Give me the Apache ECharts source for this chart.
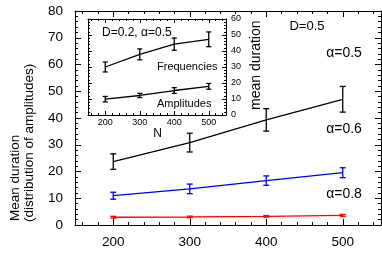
<!DOCTYPE html>
<html>
<head>
<meta charset="utf-8">
<script src="https://cdn.jsdelivr.net/npm/echarts@6/dist/echarts.min.js"></script>
<style>html,body{margin:0;padding:0;background:#fff;}#c{width:382px;height:254px;}</style>
</head>
<body>
<div id="c"></div>
<script>
// ---- data ----
const nValues = [200, 300, 400, 500];
const xTickLabels = [200, 300, 400, 500];
const alpha05 = [23.7, 30.8, 39.3, 47.0];
const alpha05Err = [2.9, 3.5, 4.2, 4.8];
const alpha06 = [10.95, 13.5, 16.6, 19.55];
const alpha06Err = [1.3, 1.8, 1.75, 1.85];
const alpha08 = [2.9, 3.0, 3.25, 3.6];
const alpha08Err = [0.35, 0.3, 0.3, 0.35];
const insetFreq = [30.0, 37.9, 44.3, 47.3];
const insetFreqErr = [3.1, 3.4, 3.8, 4.6];
const insetAmpl = [9.9, 12.2, 15.3, 17.9];
const insetAmplErr = [1.7, 1.3, 1.8, 1.8];
const xMinorTicks = [160,180,220,240,260,280,320,340,360,380,420,440,460,480,520,540];

const FONT = 'Liberation Sans, Arial, Helvetica, sans-serif';
const chart = echarts.init(document.getElementById('c'));

function pts(ys) { return nValues.map((x, i) => [x, ys[i]]); }
function errPts(ys, es) { return nValues.map((x, i) => [x, ys[i], es[i]]); }

function errSeries(ys, es, color, xi, yi, cap, z) {
  return {
    type: 'custom', xAxisIndex: xi, yAxisIndex: yi, z: z, silent: true,
    data: errPts(ys, es),
    renderItem: function (params, api) {
      const x = api.value(0), y = api.value(1), e = api.value(2);
      const t = api.coord([x, y + e]);
      const b = api.coord([x, y - e]);
      const st = { stroke: color, lineWidth: 1.3 };
      return {
        type: 'group',
        children: [
          { type: 'line', shape: { x1: t[0], y1: t[1], x2: b[0], y2: b[1] }, style: st },
          { type: 'line', shape: { x1: t[0] - cap, y1: t[1], x2: t[0] + cap, y2: t[1] }, style: st },
          { type: 'line', shape: { x1: b[0] - cap, y1: b[1], x2: b[0] + cap, y2: b[1] }, style: st }
        ]
      };
    }
  };
}
function lineSeries(ys, color, xi, yi, z) {
  return {
    type: 'line', xAxisIndex: xi, yAxisIndex: yi, z: z, silent: true,
    data: pts(ys), symbol: 'none',
    lineStyle: { color: color, width: 1.3 }, animation: false
  };
}

const axLine = { show: true, lineStyle: { color: '#000', width: 1 } };
function xAx(grid, pos, values, len, labels, fontSize, z, showLine) {
  return {
    type: 'value', gridIndex: grid, position: pos, min: 150, max: 550, offset: 0, z: z,
    axisLine: showLine ? axLine : { show: false },
    axisTick: { show: true, inside: true, length: len, customValues: values, lineStyle: { color: '#000' } },
    axisLabel: labels ? { show: true, customValues: xTickLabels, color: '#000', fontSize: fontSize, fontFamily: FONT, margin: labels } : { show: false },
    splitLine: { show: false }
  };
}

const option = {
  animation: false,
  backgroundColor: '#fff',
  grid: [
    { left: 75, right: 1, top: 11, bottom: 29, show: false },
    { left: 88, width: 138, top: 19, height: 96, show: true, backgroundColor: '#fff', borderWidth: 0, z: 10 }
  ],
  xAxis: [
    xAx(0, 'bottom', xTickLabels, 6, 10, 13.5, 0, true),
    xAx(0, 'bottom', xMinorTicks, 3, 0, 0, 0, false),
    xAx(0, 'top', xTickLabels, 6, 0, 0, 0, true),
    xAx(0, 'top', xMinorTicks, 3, 0, 0, 0, false),
    xAx(1, 'bottom', xTickLabels, 4, 3, 9, 11, true),
    xAx(1, 'bottom', xMinorTicks, 2, 0, 0, 11, false),
    xAx(1, 'top', xTickLabels, 4, 0, 0, 11, true),
    xAx(1, 'top', xMinorTicks, 2, 0, 0, 11, false)
  ],
  yAxis: [
    { type: 'value', gridIndex: 0, position: 'left', min: 0, max: 80, interval: 10,
      axisLine: axLine,
      axisTick: { show: true, inside: true, length: 6, lineStyle: { color: '#000' } },
      minorTick: { show: true, splitNumber: 5, length: 3, lineStyle: { color: '#000' } },
      axisLabel: { color: '#000', fontSize: 13.5, fontFamily: FONT, margin: 12 },
      splitLine: { show: false } },
    { type: 'value', gridIndex: 0, position: 'right', min: 0, max: 80, interval: 10,
      axisLine: axLine,
      axisTick: { show: true, inside: true, length: 6, lineStyle: { color: '#000' } },
      minorTick: { show: true, splitNumber: 5, length: 3, lineStyle: { color: '#000' } },
      axisLabel: { show: false }, splitLine: { show: false } },
    { type: 'value', gridIndex: 1, position: 'right', min: 0, max: 60, interval: 10, z: 11,
      axisLine: axLine,
      axisTick: { show: true, inside: true, length: 4, lineStyle: { color: '#000' } },
      minorTick: { show: true, splitNumber: 5, length: 2, lineStyle: { color: '#000' } },
      axisLabel: { color: '#000', fontSize: 9, fontFamily: FONT, margin: 5 },
      splitLine: { show: false } },
    { type: 'value', gridIndex: 1, position: 'left', min: 0, max: 60, interval: 10, z: 11,
      axisLine: axLine,
      axisTick: { show: true, inside: true, length: 4, lineStyle: { color: '#000' } },
      minorTick: { show: true, splitNumber: 5, length: 2, lineStyle: { color: '#000' } },
      axisLabel: { show: false }, splitLine: { show: false } }
  ],
  series: [
    lineSeries(alpha05, '#000', 0, 0, 2),
    errSeries(alpha05, alpha05Err, '#000', 0, 0, 3, 2),
    lineSeries(alpha06, '#0000dd', 0, 0, 2),
    errSeries(alpha06, alpha06Err, '#0000dd', 0, 0, 3, 2),
    lineSeries(alpha08, '#ff0000', 0, 0, 2),
    errSeries(alpha08, alpha08Err, '#ff0000', 0, 0, 3, 2),
    lineSeries(insetFreq, '#000', 4, 2, 12),
    errSeries(insetFreq, insetFreqErr, '#000', 4, 2, 2.5, 12),
    lineSeries(insetAmpl, '#000', 4, 2, 12),
    errSeries(insetAmpl, insetAmplErr, '#000', 4, 2, 2.5, 12)
  ],
  graphic: [
    { type: 'text', x: 307, y: 26, z: 20, style: { text: 'D=0.5', fontSize: 13, fontFamily: FONT, fill: '#000', textAlign: 'center', textVerticalAlign: 'middle' } },
    { type: 'text', x: 344, y: 53, z: 20, style: { text: 'α=0.5', fontSize: 14, fontFamily: FONT, fill: '#000', textAlign: 'center', textVerticalAlign: 'middle' } },
    { type: 'text', x: 344, y: 129, z: 20, style: { text: 'α=0.6', fontSize: 14, fontFamily: FONT, fill: '#000', textAlign: 'center', textVerticalAlign: 'middle' } },
    { type: 'text', x: 344, y: 194, z: 20, style: { text: 'α=0.8', fontSize: 14, fontFamily: FONT, fill: '#000', textAlign: 'center', textVerticalAlign: 'middle' } },
    { type: 'text', x: 102, y: 33, z: 20, style: { text: 'D=0.2, α=0.5', fontSize: 12, fontFamily: FONT, fill: '#000', textAlign: 'left', textVerticalAlign: 'middle' } },
    { type: 'text', x: 157, y: 67, z: 20, style: { text: 'Frequencies', fontSize: 11, fontFamily: FONT, fill: '#000', textAlign: 'left', textVerticalAlign: 'middle' } },
    { type: 'text', x: 157, y: 103.5, z: 20, style: { text: 'Amplitudes', fontSize: 11, fontFamily: FONT, fill: '#000', textAlign: 'left', textVerticalAlign: 'middle' } },
    { type: 'text', x: 157.5, y: 134, z: 20, style: { text: 'N', fontSize: 12, fontFamily: FONT, fill: '#000', textAlign: 'center', textVerticalAlign: 'middle' } },
    { type: 'text', x: 256, y: 110, rotation: Math.PI / 2, z: 20, style: { text: 'mean duration', fontSize: 14, fontFamily: FONT, fill: '#000', textAlign: 'left', textVerticalAlign: 'middle' } },
    { type: 'text', x: 15, y: 221, rotation: Math.PI / 2, z: 20, style: { text: 'Mean duration', fontSize: 13.5, fontFamily: FONT, fill: '#000', textAlign: 'left', textVerticalAlign: 'middle' } },
    { type: 'text', x: 29, y: 222, rotation: Math.PI / 2, z: 20, style: { text: '(distribution of amplitudes)', fontSize: 13.5, fontFamily: FONT, fill: '#000', textAlign: 'left', textVerticalAlign: 'middle' } }
  ]
};
chart.setOption(option);
</script>
</body>
</html>
